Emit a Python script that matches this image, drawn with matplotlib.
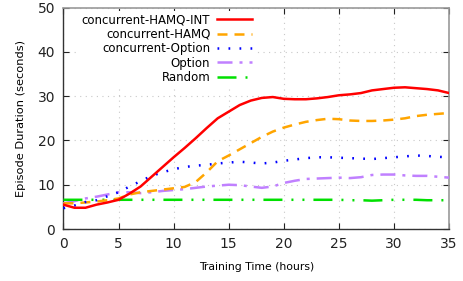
import matplotlib
matplotlib.use("Agg")
import matplotlib.pyplot as plt

hours = list(range(0, 36))
hamq_int = [5.5, 4.8, 4.8, 5.5, 6.0, 6.6, 8.0, 9.6, 11.8, 14.0, 16.2, 18.3, 20.5, 22.8,
            25.0, 26.5, 28.0, 29.0, 29.6, 29.8, 29.4, 29.3, 29.3, 29.5, 29.8, 30.2,
            30.4, 30.7, 31.3, 31.6, 31.9, 32.0, 31.8, 31.6, 31.3, 30.7]
hamq = [5.8, 5.8, 6.0, 6.2, 6.5, 6.9, 7.8, 8.3, 8.6, 8.9, 9.2, 9.5, 10.6, 12.8, 15.3,
        16.6, 18.0, 19.4, 20.8, 22.0, 22.9, 23.6, 24.2, 24.6, 24.9, 24.8, 24.5, 24.4,
        24.4, 24.5, 24.7, 25.0, 25.5, 25.8, 26.0, 26.2]
conc_option = [4.7, 5.3, 6.1, 6.5, 7.4, 8.3, 9.6, 10.8, 12.0, 12.8, 13.5, 14.0, 14.3,
               14.5, 14.8, 15.0, 15.2, 15.0, 14.8, 15.0, 15.4, 15.7, 16.0, 16.2, 16.2,
               16.1, 16.0, 15.9, 15.8, 16.0, 16.2, 16.4, 16.6, 16.5, 16.3, 16.2]
option = [5.8, 6.3, 6.9, 7.3, 7.8, 8.3, 8.3, 8.1, 8.3, 8.6, 8.8, 9.0, 9.3, 9.6, 9.8,
          10.0, 9.9, 9.6, 9.3, 9.6, 10.4, 10.9, 11.3, 11.4, 11.5, 11.6, 11.5, 11.7,
          12.2, 12.3, 12.3, 12.1, 12.0, 12.0, 11.8, 11.6]
random_ = [6.6] * 20 + [6.6, 6.6, 6.6, 6.6, 6.6, 6.6, 6.5, 6.5, 6.4, 6.5, 6.6, 6.6, 6.6,
                        6.5, 6.5, 6.5]

labels = ["concurrent-HAMQ-INT", "concurrent-HAMQ", "concurrent-Option", "Option", "Random"]
xticks = [0, 5, 10, 15, 20, 25, 30, 35]
yticks = [0, 10, 20, 30, 40, 50]

fig = plt.figure(figsize=(4.63, 2.81), dpi=100)
ax = fig.add_axes([0.137, 0.185, 0.833, 0.788])

lw = 1.8
ax.plot(hours, hamq_int, color="#ff0000", lw=lw, linestyle="-", label=labels[0], zorder=5)
ax.plot(hours, hamq, color="#ffa500", lw=lw, linestyle=(0, (4, 2.8)), label=labels[1], zorder=4)
ax.plot(hours, conc_option, color="#0000ff", lw=lw, linestyle=(0, (0.7, 3.7)), label=labels[2], zorder=4)
ax.plot(hours, option, color="#c080ff", lw=lw, linestyle=(0, (6, 2.8, 1.2, 2.8)), label=labels[3], zorder=3)
ax.plot(hours, random_, color="#00e000", lw=lw,
        linestyle=(0, (7.6, 3.6, 0.8, 3.6, 0.8, 3.6)), label=labels[4], zorder=3)

ax.set_xlim(0, 35)
ax.set_ylim(0, 50)
ax.set_xticks(xticks)
ax.set_yticks(yticks)
ax.tick_params(axis="both", direction="in", length=4, labelsize=10, colors="#222222",
               top=True, right=True, pad=6)
ax.grid(True, linestyle=(0, (1, 4)), color="#c8c8c8", lw=0.8)
for s in ["left", "bottom"]:
    ax.spines[s].set_color("#333333")
    ax.spines[s].set_linewidth(1.0)
for s in ["top", "right"]:
    ax.spines[s].set_color("#999999")
    ax.spines[s].set_linewidth(1.2)

ax.set_xlabel("Training Time (hours)", fontsize=7.8, labelpad=8)
ax.set_ylabel("Episode Duration (seconds)", fontsize=8.2, labelpad=8)

leg = ax.legend(loc="upper right", bbox_to_anchor=(254 / 463, 1 - 11 / 281),
                bbox_transform=fig.transFigure, markerfirst=False, frameon=True,
                fontsize=8.5, handlelength=2.9, labelspacing=0.12, handletextpad=0.6,
                borderpad=0.2, borderaxespad=0)
leg.get_frame().set_edgecolor("none")
leg.get_frame().set_facecolor("white")
leg.get_frame().set_alpha(1)

fig.savefig("out.png", dpi=100)
